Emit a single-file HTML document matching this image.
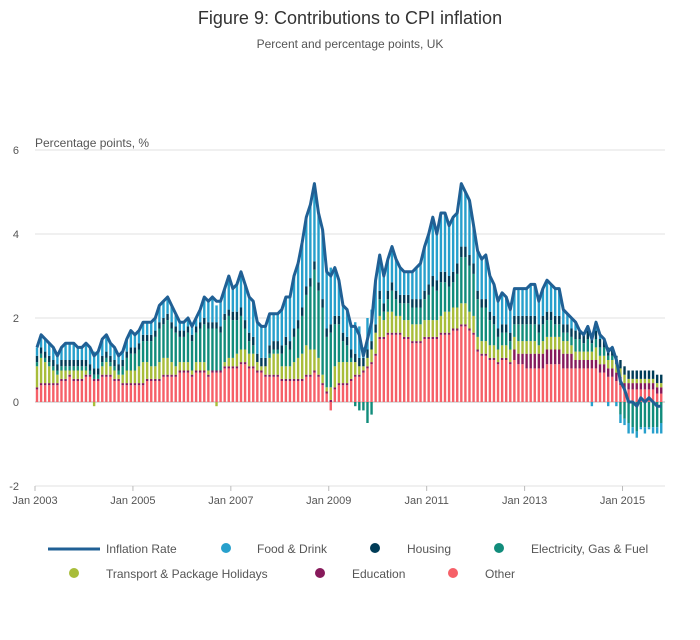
<!DOCTYPE html>
<html><head><meta charset="utf-8">
<style>
body{margin:0;background:#fff;font-family:"Liberation Sans",sans-serif;}
svg text{font-family:"Liberation Sans",sans-serif;}
</style></head>
<body>
<svg id="chart" width="700" height="635" viewBox="0 0 700 635">
<text x="350" y="24" text-anchor="middle" font-size="18" fill="#333">Figure 9: Contributions to CPI inflation</text>
<text x="350" y="48" text-anchor="middle" font-size="12" fill="#555">Percent and percentage points, UK</text>
<text x="35" y="147" font-size="12" fill="#555">Percentage points, %</text>
<g id="grid"></g><g id="bars"></g><g id="line"></g><g id="xaxis"></g>
<g font-size="12" fill="#555">
<line x1="48" y1="549" x2="100" y2="549" stroke="#206095" stroke-width="3"/>
<text x="106" y="553">Inflation Rate</text>
<circle cx="226" cy="548" r="5" fill="#27a0cc"/><text x="257" y="553">Food &amp; Drink</text>
<circle cx="375" cy="548" r="5" fill="#003c57"/><text x="407" y="553">Housing</text>
<circle cx="499" cy="548" r="5" fill="#118c7b"/><text x="531" y="553">Electricity, Gas &amp; Fuel</text>
<circle cx="74" cy="573" r="5" fill="#a8bd3a"/><text x="106" y="578">Transport &amp; Package Holidays</text>
<circle cx="320" cy="573" r="5" fill="#871a5b"/><text x="352" y="578">Education</text>
<circle cx="453" cy="573" r="5" fill="#f66068"/><text x="485" y="578">Other</text>
</g>
</svg>
<script>
const inflation=[1.3,1.6,1.5,1.4,1.3,1.1,1.3,1.4,1.4,1.4,1.3,1.3, 1.4,1.3,1.1,1.2,1.5,1.6,1.4,1.3,1.1,1.2,1.5,1.7, 1.6,1.7,1.9,1.9,1.9,2.0,2.3,2.4,2.5,2.3,2.1,1.9, 1.9,2.0,1.8,2.0,2.2,2.5,2.4,2.5,2.4,2.4,2.7,3.0, 2.7,2.8,3.1,2.8,2.5,2.4,1.9,1.8,1.8,2.1,2.1,2.1, 2.2,2.5,2.5,3.0,3.3,3.8,4.4,4.7,5.2,4.5,4.1,3.1, 3.0,3.2,2.9,2.3,2.2,1.8,1.8,1.6,1.1,1.5,1.9,2.9, 3.5,3.0,3.4,3.7,3.4,3.2,3.1,3.1,3.1,3.2,3.3,3.7, 4.0,4.4,4.0,4.5,4.5,4.2,4.4,4.5,5.2,5.0,4.8,4.2, 3.6,3.4,3.5,3.0,2.8,2.4,2.6,2.5,2.2,2.7,2.7,2.7, 2.7,2.8,2.8,2.4,2.7,2.9,2.8,2.7,2.7,2.2,2.1,2.0, 1.9,1.7,1.6,1.8,1.5,1.9,1.6,1.5,1.2,1.3,1.0,0.5, 0.3,0.0,0.0,-0.1,0.1,0.0,0.1,0.0,-0.1,-0.1];
const other=[.3,.4,.4,.4,.4,.4,.5,.5,.6,.5,.5,.5, .6,.6,.5,.5,.6,.6,.6,.5,.5,.4,.4,.4, .4,.4,.4,.5,.5,.5,.5,.6,.6,.6,.6,.7, .7,.7,.6,.7,.7,.7,.6,.7,.7,.7,.8,.8, .8,.8,.9,.9,.8,.8,.7,.7,.6,.6,.6,.6, .5,.5,.5,.5,.5,.5,.6,.6,.7,.6,.4,.2, -.2,.3,.4,.4,.4,.5,.6,.6,.7,.8,.9,1.1, 1.5,1.5,1.6,1.6,1.6,1.6,1.5,1.5,1.4,1.4,1.4,1.5, 1.5,1.5,1.5,1.6,1.6,1.6,1.7,1.7,1.8,1.8,1.7,1.6, 1.2,1.1,1.1,1.0,1.0,.9,1.0,1.0,.9,1.0,.9,.9, .8,.8,.8,.8,.8,.9,.9,.9,.9,.8,.8,.8, .8,.8,.8,.8,.8,.8,.7,.7,.6,.6,.5,.4, .3,.3,.3,.3,.3,.3,.3,.3,.2,.2];
const education=[.05,.05,.05,.05,.05,.05,.05,.05,.05,.05,.05,.05, .05,.05,.05,.05,.05,.05,.05,.05,.05,.05,.05,.05, .05,.05,.05,.05,.05,.05,.05,.05,.05,.05,.05,.05, .05,.05,.05,.05,.05,.05,.05,.05,.05,.05,.05,.05, .05,.05,.05,.05,.05,.05,.05,.05,.05,.05,.05,.05, .05,.05,.05,.05,.05,.05,.05,.05,.05,.05,.05,.05, .05,.05,.05,.05,.05,.05,.05,.05,.05,.05,.05,.05, .05,.05,.05,.05,.05,.05,.05,.05,.05,.05,.05,.05, .05,.05,.05,.05,.05,.05,.05,.05,.05,.05,.05,.05, .05,.05,.05,.05,.05,.05,.05,.05,.05,.25,.25,.25, .35,.35,.35,.35,.35,.35,.35,.35,.35,.35,.35,.35, .2,.2,.2,.2,.2,.2,.2,.2,.2,.2,.2,.2, .15,.15,.15,.15,.15,.15,.15,.15,.15,.15];
const transport=[.5,.6,.5,.4,.3,.2,.2,.2,.1,.2,.2,.2, .1,0,-.1,0,.2,.3,.2,.2,.1,.2,.3,.3, .3,.4,.5,.4,.3,.3,.4,.4,.4,.3,.2,.2, .2,.2,.1,.2,.2,.2,.1,0,-.1,0,.1,.2, .2,.3,.3,.3,.3,.3,.2,.1,.2,.4,.5,.5, .3,.3,.3,.4,.5,.6,.7,.6,.5,.4,.2,.1, .3,.5,.5,.5,.5,.4,.3,.2,.1,.2,.3,.5, .5,.4,.5,.5,.4,.4,.4,.4,.4,.4,.4,.4, .4,.4,.4,.4,.5,.5,.5,.5,.5,.5,.4,.4, .3,.3,.3,.3,.3,.3,.3,.3,.3,.3,.3,.3, .3,.3,.3,.2,.3,.3,.3,.3,.3,.3,.3,.2, .2,.2,.2,.2,.2,.3,.2,.2,.2,.2,.2,.2, .2,.1,.1,.1,.1,.1,.1,.1,.1,.1];
const energy=[.1,.1,.1,.1,.1,.1,.1,.1,.1,.1,.1,.1, .1,.1,.1,.1,.1,.1,.1,.1,.1,.2,.3,.4, .4,.4,.5,.5,.6,.7,.8,.8,.9,.8,.8,.6, .6,.7,.7,.7,.8,.9,1.0,1.0,1.0,.9,1.0,1.0, .9,.8,.8,.5,.3,.2,0,0,0,.1,.1,.1, .3,.5,.4,.6,.7,.9,1.2,1.5,1.9,1.6,1.6,1.2, 1.3,1.0,.9,.5,.4,.1,-.1,-.2,-.2,-.5,-.3,0, .4,.2,.3,.5,.4,.3,.4,.4,.4,.4,.4,.5, .6,.8,.7,.8,.7,.6,.6,.8,1.1,1.1,1.1,1.0, .9,.8,.8,.6,.5,.3,.3,.3,.2,.3,.4,.4, .4,.4,.4,.3,.4,.4,.4,.3,.3,.2,.2,.2, .3,.3,.2,.3,.2,.2,.2,.2,.1,.1,0,-.3, -.4,-.5,-.6,-.7,-.6,-.6,-.6,-.6,-.6,-.5];
const housing=[.15,.15,.15,.15,.15,.15,.15,.15,.15,.15,.15,.15, .15,.15,.15,.15,.15,.15,.15,.15,.15,.15,.15,.15, .15,.15,.15,.15,.15,.15,.15,.15,.15,.15,.15,.15, .15,.15,.15,.15,.15,.15,.15,.15,.15,.15,.15,.15, .2,.2,.2,.2,.2,.2,.2,.2,.2,.2,.2,.2, .2,.2,.2,.2,.2,.2,.2,.2,.2,.2,.2,.2, .2,.2,.2,.2,.2,.2,.2,.2,.2,.2,.2,.2, .2,.2,.2,.2,.2,.2,.2,.2,.2,.2,.2,.2, .25,.25,.25,.25,.25,.25,.25,.25,.25,.25,.25,.25, .2,.2,.2,.2,.2,.2,.2,.2,.2,.2,.2,.2, .2,.2,.2,.2,.2,.2,.2,.2,.2,.2,.2,.2, .2,.2,.2,.2,.2,.2,.2,.2,.2,.2,.2,.2, .2,.2,.2,.2,.2,.2,.2,.2,.2,.2];
const food=[.2,.3,.3,.3,.3,.2,.3,.4,.4,.4,.3,.3, .4,.4,.4,.4,.4,.4,.3,.3,.2,.2,.3,.4, .3,.3,.3,.3,.3,.3,.4,.4,.4,.4,.3,.2, .2,.2,.2,.2,.3,.5,.5,.6,.4,.6,.6,.8, .55,.65,.85,.85,.85,.85,.75,.75,.75,.75,.65,.65, .85,.95,1.05,1.25,1.35,1.55,1.65,1.75,1.85,1.65,1.65,1.35, 1.35,1.15,.85,.65,.65,.55,.75,.75,.25,.75,.75,1.05, .85,.65,.75,.85,.75,.65,.55,.55,.65,.75,.85,1.05, 1.2,1.4,1.1,1.4,1.4,1.2,1.3,1.2,1.5,1.3,1.3,.9, .95,.95,1.05,.85,.75,.65,.75,.65,.55,.65,.65,.65, .65,.75,.75,.55,.65,.75,.65,.65,.65,.35,.25,.25, .2,0,0,.1,-.1,.2,.1,0,-.1,0,-.1,-.2, -.15,-.25,-.15,-.15,-.05,-.15,-.05,-.15,-.15,-.25];
const yTicks=[6,4,2,0,-2];
const xTickLabels=["Jan 2003","Jan 2005","Jan 2007","Jan 2009","Jan 2011","Jan 2013","Jan 2015"];
const xTickIndex=[0,24,48,72,96,120,144];

const NS="http://www.w3.org/2000/svg";
const X0=35, MW=4.08, Y0=402, PX=42;
const xScale=i=>X0+i*MW;
const yScale=v=>Y0-v*PX;
function mk(tag,attrs,parent){const e=document.createElementNS(NS,tag);for(const k in attrs)e.setAttribute(k,attrs[k]);parent.appendChild(e);return e;}
const grid=document.getElementById('grid');
yTicks.forEach(t=>{
  const l=mk('line',{x1:35,x2:665,y1:yScale(t),y2:yScale(t),stroke:t===0?'#bbb':'#e2e2e2','stroke-width':1},grid);
  
  
  const tx=mk('text',{x:19,y:yScale(t)+4,'text-anchor':'end','font-size':11,fill:'#555'},grid);
  tx.textContent=t;
  
  
});
const series=[[other,'#f66068','other'],[education,'#871a5b','education'],[transport,'#a8bd3a','transport'],[energy,'#118c7b','energy'],[housing,'#003c57','housing'],[food,'#27a0cc','food']];
const bars=document.getElementById('bars');
for(let i=0;i<inflation.length;i++){
  let pos=0,neg=0;const x=xScale(i)+0.8;
  series.forEach(([arr,col,nm])=>{
    const v=arr[i];if(!v)return;
    let a,b;
    if(v>0){a=pos;b=pos+v;pos=b;}else{a=neg+v;b=neg;neg=a;}
    const r=mk('rect',{x:x,y:yScale(b),width:2.4,height:(b-a)*PX,fill:col},bars);
    
    
  });
}
const pts=inflation.map((v,i)=>(xScale(i)+2).toFixed(1)+','+yScale(v).toFixed(1)).join(' ');
const pl=mk('polyline',{points:pts,fill:'none',stroke:'#206095','stroke-width':3,'stroke-linejoin':'round'},document.getElementById('line'));


const xa=document.getElementById('xaxis');
xTickIndex.forEach((idx,k)=>{
  const x=xScale(idx);
  const tk=mk('line',{x1:x,x2:x,y1:486,y2:491,stroke:'#bbb'},xa);
  
  
  const t=mk('text',{x:x,y:504,'text-anchor':'middle','font-size':11,fill:'#555'},xa);
  t.textContent=xTickLabels[k];
  
  
});
</script>
</body></html>
